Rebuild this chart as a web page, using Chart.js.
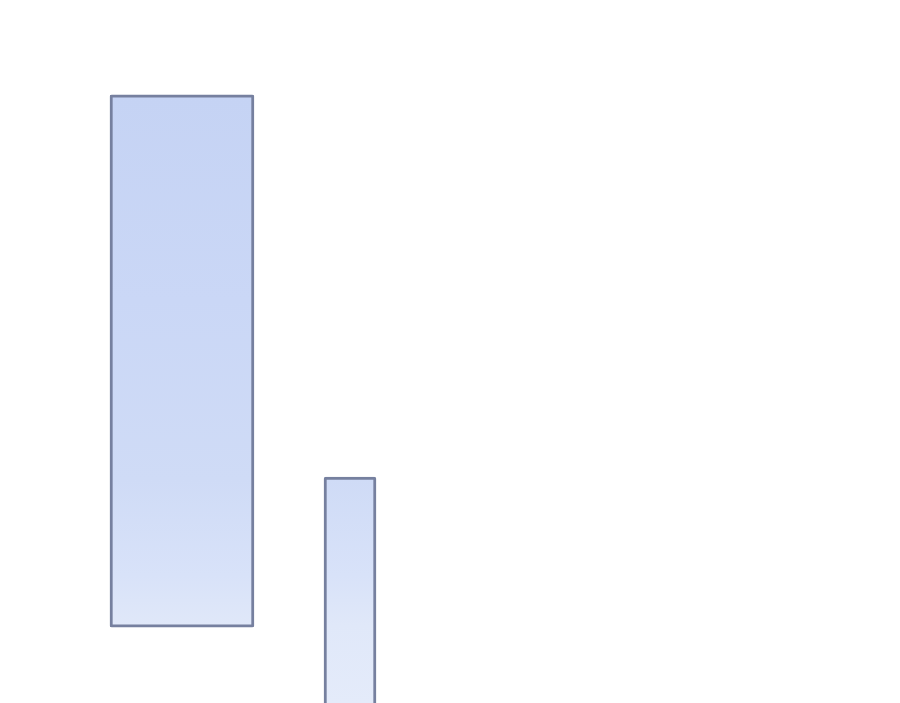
<!DOCTYPE html>
<html>
<head>
<meta charset="utf-8">
<script src="https://cdn.jsdelivr.net/npm/chart.js@4/dist/chart.umd.min.js"></script>
<style>
html,body{margin:0;padding:0;background:#fff;}
#wrap{width:900px;height:703px;}
</style>
</head>
<body>
<div id="wrap"><canvas id="c" width="900" height="703"></canvas></div>
<script>
// Data
const positions = [20.22, 38.89];       // x-values (category centres on a 0–100 scale)
const lowValues = [10.8, -5];           // bar bottoms
const highValues = [86.5, 32.15];       // bar tops
const thickness = [144, 52];

function grad(ctx) {
  const chart = ctx.chart;
  const area = chart.chartArea;
  if (!area) return '#cdd9f5';
  const h = area.bottom - area.top;
  const g = chart.ctx.createLinearGradient(0, area.top, 0, area.bottom);
  g.addColorStop(0, '#c2d0f3');
  g.addColorStop(96 / h, '#c5d3f4');
  g.addColorStop(300 / h, '#cad7f6');
  g.addColorStop(480 / h, '#cfdbf6');
  g.addColorStop(575 / h, '#d8e2f9');
  g.addColorStop(626 / h, '#e0e8f9');
  g.addColorStop(1, '#e4ebfa');
  return g;
}

const datasets = positions.map((p, i) => ({
  data: [{ x: p, y: [lowValues[i], highValues[i]] }],
  backgroundColor: grad,
  borderColor: '#76809f',
  borderWidth: 3,
  borderRadius: 2,
  borderSkipped: false,
  barThickness: thickness[i],
  grouped: false
}));

new Chart(document.getElementById('c'), {
  type: 'bar',
  data: { datasets },
  options: {
    responsive: false,
    animation: false,
    devicePixelRatio: 1,
    layout: { padding: 0 },
    plugins: { legend: { display: false }, tooltip: { enabled: false } },
    scales: {
      x: { type: 'linear', min: 0, max: 100, offset: false, display: false },
      y: { min: 0, max: 100, display: false }
    }
  }
});
</script>
</body>
</html>
